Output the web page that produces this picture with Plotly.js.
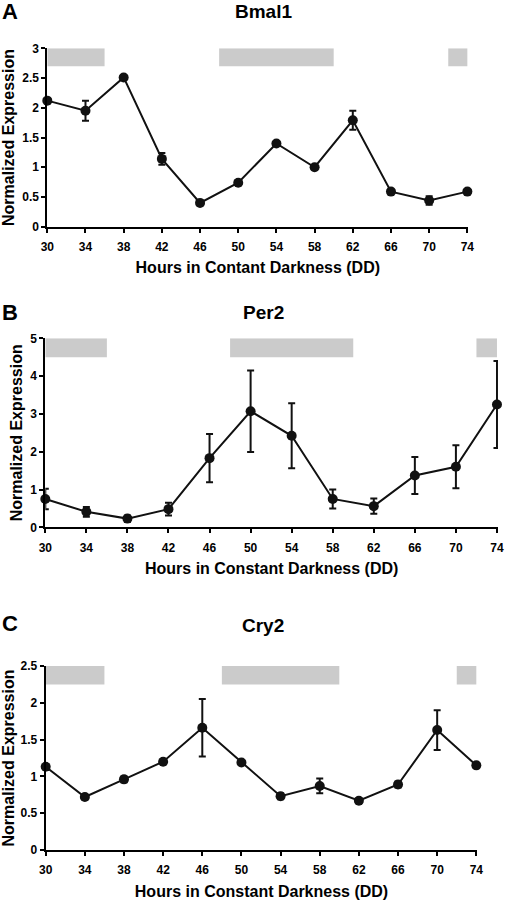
<!DOCTYPE html>
<html>
<head>
<meta charset="utf-8">
<script src="https://cdn.plot.ly/plotly-3.0.1.min.js"></script>
<style>
html,body{margin:0;padding:0;background:#fff;}
#chart{width:507px;height:900px;}
</style>
</head>
<body>
<div id="chart"></div>
<script>
// ---- data ----
const hours = [30, 34, 38, 42, 46, 50, 54, 58, 62, 66, 70, 74];
const tickLabels = ["30","34","38","42","46","50","54","58","62","66","70","74"];

const bmal1    = [2.12, 1.95, 2.51, 1.14, 0.40, 0.74, 1.40, 1.00, 1.79, 0.59, 0.44, 0.59];
const bmal1Err = [0.04, 0.17, 0.04, 0.10, 0.03, 0.04, 0.03, 0.03, 0.16, 0.03, 0.07, 0.03];

const per2     = [0.75, 0.41, 0.23, 0.48, 1.83, 3.07, 2.42, 0.75, 0.56, 1.37, 1.60, 3.25];
const per2Err  = [0.27, 0.13, 0.08, 0.17, 0.64, 1.08, 0.86, 0.25, 0.20, 0.49, 0.57, 1.15];

const cry2     = [1.13, 0.72, 0.96, 1.20, 1.66, 1.19, 0.73, 0.87, 0.67, 0.89, 1.63, 1.15];
const cry2Err  = [0.04, 0.03, 0.04, 0.03, 0.39, 0.03, 0.04, 0.10, 0.03, 0.04, 0.27, 0.03];

// subjective night (grey bars)
const darkStart = [30, 48, 72];
const darkEnd   = [36, 60, 74];

const geneNames  = ["Bmal1", "Per2", "Cry2"];
const panelTags  = ["A", "B", "C"];
const xTitles    = ["Hours in Contant Darkness (DD)", "Hours in Constant Darkness (DD)", "Hours in Constant Darkness (DD)"];
const yTitle     = "Normalized Expression";
const yMax       = [3, 5, 2.5];
const yDtick     = [0.5, 1, 0.5];
const barBottom  = [2.7, 4.5, 2.25];

// ---- layout geometry ----
const W = 507, H = 900;
const boxes = [ // left, right, top, bottom in px
  [47.3, 468.3, 48.3, 226.7],
  [45.3, 498.0, 338.3, 527.3],
  [45.7, 477.3, 666.0, 850.0]
];

const FONT = 'Liberation Sans, Arial, sans-serif';
const values = [bmal1, per2, cry2];
const errs = [bmal1Err, per2Err, cry2Err];

const traces = [];
const layout = {
  width: W, height: H,
  margin: {l: 0, r: 0, t: 0, b: 0},
  paper_bgcolor: '#fff', plot_bgcolor: 'rgba(0,0,0,0)',
  showlegend: false,
  font: {family: FONT, color: '#000', size: 12, weight: 'bold'},
  shapes: [],
  annotations: []
};

for (let i = 0; i < 3; i++) {
  const sfx = i === 0 ? '' : String(i + 1);
  const b = boxes[i];
  const xd = [b[0] / W, b[1] / W];
  const yd = [1 - b[3] / H, 1 - b[2] / H];

  traces.push({
    type: 'scatter', mode: 'lines+markers',
    x: hours, y: values[i],
    xaxis: 'x' + sfx, yaxis: 'y' + sfx,
    line: {color: '#111', width: 2},
    marker: {color: '#111', size: 10, symbol: 'circle'},
    error_y: {type: 'data', array: errs[i], visible: true, color: '#111', thickness: 2, width: 3.5},
    cliponaxis: false,
    hoverinfo: 'x+y'
  });

  layout['xaxis' + sfx] = {
    domain: xd, anchor: 'y' + sfx,
    range: [30, 74.1], tickmode: 'array', tickvals: hours, ticktext: tickLabels,
    showline: true, linecolor: '#000', linewidth: 2,
    ticks: 'outside', ticklen: 4, tickwidth: 2, tickcolor: '#000',
    ticklabelstandoff: 4,
    showgrid: false, zeroline: false,
    tickfont: {family: FONT, size: 12, weight: 'bold', color: '#000'},
    title: {text: xTitles[i], font: {family: FONT, size: 16, weight: 'bold', color: '#000'}, standoff: 9}
  };
  layout['yaxis' + sfx] = {
    domain: yd, anchor: 'x' + sfx,
    range: [0, yMax[i]], dtick: yDtick[i], tick0: 0,
    showline: true, linecolor: '#000', linewidth: 2,
    ticks: 'outside', ticklen: 4, tickwidth: 2, tickcolor: '#000',
    showgrid: false, zeroline: false,
    tickfont: {family: FONT, size: 12, weight: 'bold', color: '#000'},
    title: {text: yTitle, font: {family: FONT, size: 16, weight: 'bold', color: '#000'}, standoff: 4}
  };

  for (let k = 0; k < darkStart.length; k++) {
    layout.shapes.push({
      type: 'rect', xref: 'x' + sfx, yref: 'y' + sfx,
      x0: darkStart[k], x1: darkEnd[k], y0: barBottom[i], y1: yMax[i],
      fillcolor: '#cbcbcb', line: {width: 0}, layer: 'below'
    });
  }

  const titleY = [12, 312, 625][i];
  layout.annotations.push({
    text: geneNames[i], xref: 'paper', yref: 'paper',
    x: 263 / W, y: 1 - titleY / H, xanchor: 'center', yanchor: 'middle',
    showarrow: false, font: {family: FONT, size: 19, weight: 'bold', color: '#000'}
  });
  const tagY = [12, 312, 623][i];
  layout.annotations.push({
    text: panelTags[i], xref: 'paper', yref: 'paper',
    x: 0, y: 1 - tagY / H, xanchor: 'left', yanchor: 'middle',
    showarrow: false, font: {family: FONT, size: 22, weight: 'bold', color: '#000'}
  });
}

Plotly.newPlot('chart', traces, layout, {displayModeBar: false, staticPlot: true});
</script>
</body>
</html>
